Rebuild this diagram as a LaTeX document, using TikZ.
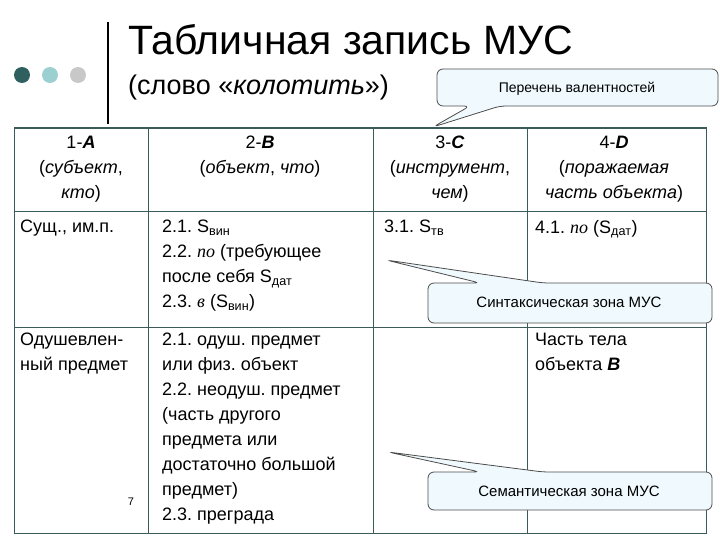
\documentclass[tikz,border=0pt]{standalone}
\usepackage{fontspec}
\setmainfont{Liberation Sans}
\newfontfamily\serif{Liberation Serif}
\frenchspacing
\begin{document}
\begin{tikzpicture}[x=1pt,y=-1pt,
  cell/.style={anchor=north west,inner sep=0pt,align=left,font=\fontsize{18}{25}\selectfont},
  head/.style={anchor=north,inner sep=0pt,align=center,font=\fontsize{18}{25}\selectfont},
  callout/.style={draw=gray!60!black,fill=cyan!6,rounded corners=6pt,line width=0.8pt}]
\useasboundingbox (0,0) rectangle (720,540);
\definecolor{slate}{HTML}{3B5A5A}
\fill[fill={rgb,255:red,47;green,95;blue,95}] (22,75) circle (8);
\fill[fill={rgb,255:red,156;green,207;blue,208}] (50,75) circle (8);
\fill[fill={rgb,255:red,200;green,200;blue,200}] (78,75) circle (8);
\draw[line width=1.5pt] (108,22) -- (108,124);
\node[anchor=base west,inner sep=0pt,font=\fontsize{41}{44}\selectfont] (t) at (128,55) {Табличная запись МУС};
\node[anchor=base west,inner sep=0pt,font=\fontsize{27}{30}\selectfont] (st) at (128,95) {(слово «\textit{колотить}»)};
% table
\draw[slate,line width=2.5pt] (14,128) -- (706,128);
\draw[slate,line width=1pt] (14,128) rectangle (706,533);
\foreach \x in {148,373,527} \draw[slate,line width=1pt] (\x,128) -- (\x,533);
\draw[slate,line width=1pt] (14,212) -- (706,212);
\draw[slate,line width=1pt] (14,327) -- (706,327);
\node[head] (h1) at (81,136) {1-\textit{\textbf{A}}\\(\textit{субъект},\\\textit{кто})};
\node[head] (h2) at (260,136) {2-\textbf{\textit{B}}\\(\textit{объект}, \textit{что})};
\node[head] (h3) at (450,136) {3-\textbf{\textit{C}}\\(\textit{инструмент},\\\textit{чем})};
\node[head] (h4) at (614,136) {4-\textbf{\textit{D}}\\(\textit{поражаемая}\\\textit{часть объекта})};
\node[cell] (a1) at (20,220) {Сущ., им.п.};
\node[cell] (a2) at (162,220) {2.1. S\textsubscript{вин}\\2.2. {\serif\itshape по} (требующее\\после себя S\textsubscript{дат}\\2.3. {\serif\itshape в} (S\textsubscript{вин})};
\node[cell] (a3) at (384,220) {3.1. S\textsubscript{тв}};
\node[cell] (a4) at (535,220) {4.1. {\serif\itshape по} (S\textsubscript{дат})};
\node[cell] (b1) at (20,333) {Одушевлен-\\ный предмет};
\node[cell] (b2) at (162,333) {2.1. одуш. предмет\\или физ. объект\\2.2. неодуш. предмет\\(часть другого\\предмета или\\достаточно большой\\предмет)\\2.3. преграда};
\node[cell] (b4) at (535,333) {Часть тела\\объекта \textbf{\textit{B}}};
\node[font=\fontsize{11}{12}\selectfont] (n7) at (131,502) {7};
% callouts
\coordinate (p1) at (433,127);
\draw[callout] (470,106) -- (p1) -- (500,106) -- (718,106) -- (718,69) -- (437,69) -- (437,106) -- cycle;
\node[font=\fontsize{14}{16}\selectfont] (c1) at (577,89) {Перечень валентностей};
\coordinate (p2) at (386,260);
\draw[callout] (480,283) -- (p2) -- (543,283) -- (712,283) -- (712,323) -- (428,323) -- (428,283) -- cycle;
\node[font=\fontsize{15}{17}\selectfont] (c2) at (569,302) {Синтаксическая зона МУС};
\coordinate (p3) at (388,452);
\draw[callout] (480,472) -- (p3) -- (543,472) -- (712,472) -- (712,510) -- (428,510) -- (428,472) -- cycle;
\node[font=\fontsize{15}{17}\selectfont] (c3) at (569,491) {Семантическая зона МУС};
\end{tikzpicture}
\end{document}
